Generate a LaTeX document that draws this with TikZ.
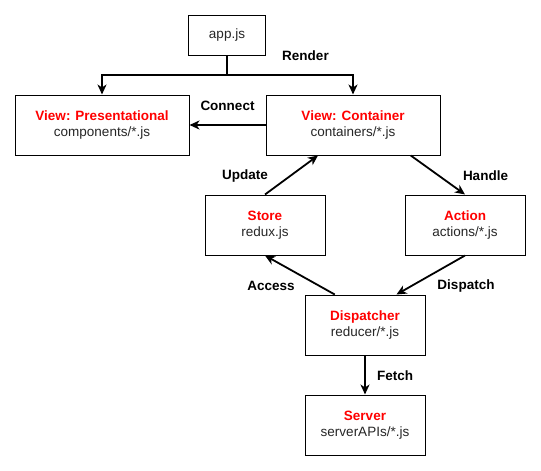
\documentclass[tikz,border=0pt]{standalone}
\usepackage{fontspec}
\setmainfont{Liberation Sans}
\usepackage{xcolor}
\usetikzlibrary{arrows.meta, positioning, calc}

\begin{document}
\begin{tikzpicture}[
  x=1pt, y=-1pt,
  every node/.style={font=\fontsize{13.5}{16}\selectfont, text=black!85},
  box/.style={draw=black, line width=1pt, rectangle, align=center, inner sep=0pt,
              minimum width=120pt, minimum height=60pt, fill=white},
  wide/.style={box, minimum width=174pt},
  lbl/.style={font=\fontsize{13.5}{16}\selectfont\bfseries, text=black},
  arr/.style={-{Stealth[length=10pt, width=9pt, inset=3pt]}, line width=1.8pt},
]
  \useasboundingbox (0,0) rectangle (541,471);

  % Boxes
  \node[box, minimum width=77pt, minimum height=40pt] (app) at (227,35) {app.js};
  \node[wide] (pres) at (102,125)
       {\textcolor{red}{\textbf{View: Presentational}}\\components/*.js};
  \node[wide] (cont) at (353,125)
       {\textcolor{red}{\textbf{View: Container}}\\containers/*.js};
  \node[box] (store) at (265,225) {\textcolor{red}{\textbf{Store}}\\redux.js};
  \node[box] (action) at (465,225) {\textcolor{red}{\textbf{Action}}\\actions/*.js};
  \node[box] (disp) at (365,325) {\textcolor{red}{\textbf{Dispatcher}}\\reducer/*.js};
  \node[box] (server) at (365,425) {\textcolor{red}{\textbf{Server}}\\serverAPIs/*.js};

  % Render split
  \coordinate (split) at (227,75);
  \draw[arr] (app.south) -- (split) -| (pres.north);
  \draw[arr] (split) -| (cont.north);

  % Connectors
  \draw[arr] (cont.west) -- (pres.east);
  \draw[arr] (store.north) -- ($(cont.south west)!0.3!(cont.south east)$);
  \draw[arr] ($(cont.south west)!0.83!(cont.south east)$) -- (action.north);
  \draw[arr] (action.south) -- ($(disp.north west)!0.76!(disp.north east)$);
  \draw[arr] ($(disp.north west)!0.25!(disp.north east)$) -- (store.south);
  \draw[arr] (disp.south) -- (server.north);

  % Labels
  \node[lbl] (render) at (305.5,56) {Render};
  \node[lbl] (connect) at (227.5,106) {Connect};
  \node[lbl] (update) at (245,176) {Update};
  \node[lbl] (handle) at (485.5,176) {Handle};
  \node[lbl] (access) at (271,286) {Access};
  \node[lbl] (dispatch) at (466,286) {Dispatch};
  \node[lbl] (fetch) at (395,376) {Fetch};
\end{tikzpicture}
\end{document}
